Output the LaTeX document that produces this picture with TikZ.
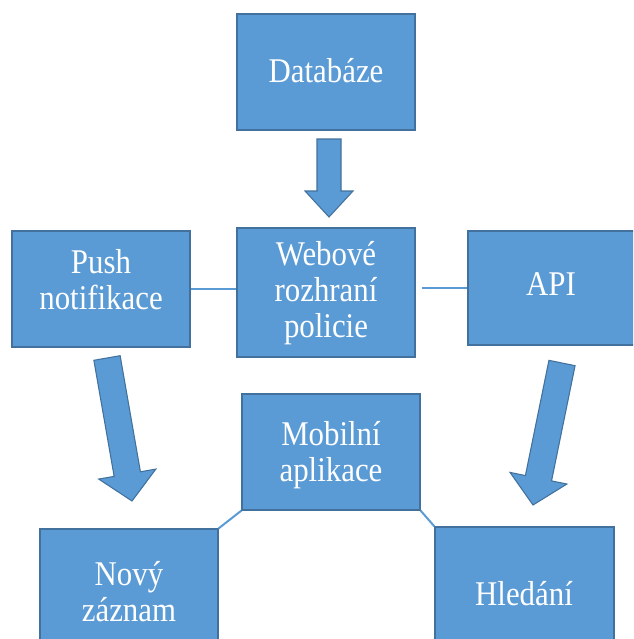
\documentclass[tikz,border=0pt]{standalone}
\usepackage{fontspec}
\setmainfont{Liberation Serif}[FakeStretch=0.89]
\usetikzlibrary{calc}
\definecolor{boxblue}{HTML}{5B9BD5}
\definecolor{edgeblue}{HTML}{41719C}
\tikzset{
  box/.style={draw=edgeblue, line width=0.8pt, fill=boxblue, inner sep=0pt},
  txt/.style={text=white, align=center, inner sep=0pt, anchor=base,
    font=\fontsize{26}{27}\selectfont},
  link/.style={draw=boxblue, line width=1.5pt},
  barrow/.style={draw=edgeblue, line width=0.8pt, fill=boxblue, line join=miter},
}
\newcommand\blockarr[5]{% from, to, shaft half, head half, head length
  \coordinate (#2-base) at ($(#2)!#5!(#1)$);
  \draw[barrow] ($(#1)!#3!90:(#2)$) -- ($(#2-base)!#3!-90:(#1)$)
    -- ($(#2-base)!#4!-90:(#1)$) -- (#2) -- ($(#2-base)!#4!90:(#1)$)
    -- ($(#2-base)!#3!90:(#1)$) -- ($(#1)!#3!-90:(#2)$) -- cycle;}
\begin{document}
\begin{tikzpicture}[x=0.75pt, y=-0.75pt]
\useasboundingbox (0,0) rectangle (633,639);
\clip (0,0) rectangle (633,639);
\fill[white] (0,0) rectangle (633,639);
% boxes
\node[box, minimum width=133.5pt, minimum height=87pt] (db) at (326,72) {};
\node[box, minimum width=133.5pt, minimum height=87pt] (push) at (101,289) {};
\node[box, minimum width=133.5pt, minimum height=96.75pt] (web) at (326,292.5) {};
\node[box, minimum width=129pt, minimum height=85.5pt] (api) at (554,288) {};
\node[box, minimum width=133.5pt, minimum height=87pt] (mob) at (331,452) {};
\node[box, minimum width=133.5pt, minimum height=98.25pt] (novy) at (129,594.5) {};
\node[box, minimum width=134.25pt, minimum height=99.75pt] (hled) at (524.5,593.5) {};
% texts (base = baseline of the last line)
\node[txt] (dbt) at (326,82) {Databáze};
\node[txt] (pusht) at (101,309) {Push\\notifikace};
\node[txt] (webt) at (326,337) {Webové\\rozhraní\\policie};
\node[txt] (apit) at (551,295) {API};
\node[txt] (mobt) at (331,481) {Mobilní\\aplikace};
\node[txt] (novyt) at (129,621) {Nový\\záznam};
\node[txt] (hledt) at (524,605) {Hledání};
% connectors
\draw[link] (push.east) -- (push.east -| web.west);
\draw[link] ([xshift=4.5pt]api.west -| web.east) -- (api.west);
\draw[link] (mob.south west) -- (novy.north east);
\draw[link] (mob.south east) -- (hled.north west);
% block arrows
\coordinate (ta) at (329,139);
\coordinate (tb) at (329,217);
\coordinate (la) at (107,358);
\coordinate (lb) at (132,501);
\coordinate (ra) at (562,363);
\coordinate (rb) at (533,505);
\blockarr{ta}{tb}{9pt}{18pt}{19.5pt}
\blockarr{la}{lb}{10pt}{21.75pt}{20.5pt}
\blockarr{ra}{rb}{10pt}{21.75pt}{20.5pt}
\end{tikzpicture}
\end{document}
